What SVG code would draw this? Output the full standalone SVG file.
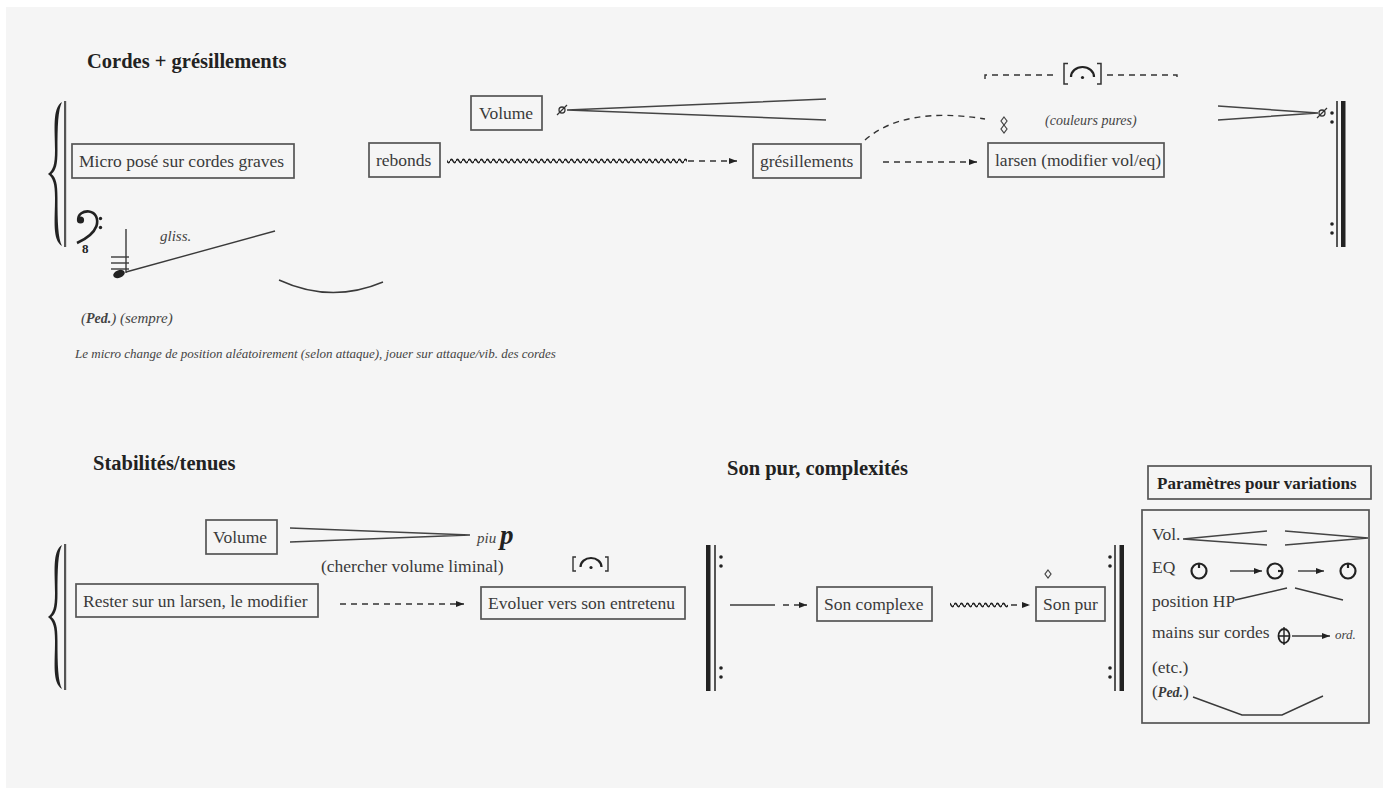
<svg xmlns="http://www.w3.org/2000/svg" width="1392" height="791" viewBox="0 0 1392 791">
<defs>
<style>
.t{font-family:"Liberation Serif","Times New Roman",serif;font-size:17.5px;fill:#3a3a3a}
.h{font-family:"Liberation Serif","Times New Roman",serif;font-size:20.5px;font-weight:bold;fill:#222}
.hb{font-family:"Liberation Serif","Times New Roman",serif;font-size:17px;font-weight:bold;fill:#222}
.it{font-family:"Liberation Serif","Times New Roman",serif;font-style:italic;fill:#444}
.box{fill:none;stroke:#555;stroke-width:1.7}
.ln{fill:none;stroke:#3a3a3a;stroke-width:1.4}
.hp{fill:none;stroke:#444;stroke-width:1.5}
.da{fill:none;stroke:#333;stroke-width:1.4;stroke-dasharray:6 5}
.thick{fill:#222}
.thin{fill:#555}
.dot{fill:#222}
.brace{fill:#222}
.knob{fill:none;stroke:#222;stroke-width:2.2}
</style>
<marker id="ah" viewBox="0 0 8 6" refX="8" refY="3" markerWidth="8" markerHeight="6" markerUnits="userSpaceOnUse" orient="auto">
<path d="M0,0 L8,3 L0,6 z" fill="#222"/>
</marker>
<pattern id="wave" x="0" y="158" width="6" height="6" patternUnits="userSpaceOnUse">
<path d="M0,3 C1,0.8 2,0.8 3,3 C4,5.2 5,5.2 6,3" fill="none" stroke="#222" stroke-width="1.6"/>
</pattern>
<path id="bracePath" d="M62,102 C52,108 55,130 55,150 C55,165 53,170 48,174 C53,178 55,183 55,198 C55,220 52,240 62,246 C58,238 57.5,222 57.5,198 C57.5,183 56,178 51.5,174 C56,170 57.5,165 57.5,150 C57.5,126 58,110 62,102 Z"/>
<g id="niente"><circle cx="0" cy="0" r="3" fill="none" stroke="#333" stroke-width="1.3"/><line x1="-5" y1="5" x2="5" y2="-5" stroke="#333" stroke-width="1.2"/></g>
<path id="diamond" d="M0,-4 L3,0 L0,4 L-3,0 Z" fill="none" stroke="#444" stroke-width="1.2"/>
</defs>

<rect x="0" y="0" width="1392" height="791" fill="#ffffff"/>
<rect x="6" y="7" width="1377" height="781" fill="#f5f5f5"/>

<!-- ===== Section 1 ===== -->
<text class="h" x="87" y="68">Cordes + grésillements</text>

<g id="staff1">
<use href="#bracePath" class="brace"/>
<rect x="64" y="101" width="2.2" height="146" class="thin"/>
<circle cx="80.5" cy="220" r="3.6" fill="#222"/>
<path d="M78.5,221 C77,213.5 84,211 89,211.5 C96,212.5 98.5,219 96.5,226 C93.5,234 86,239 77,243" fill="none" stroke="#222" stroke-width="2.6"/>
<circle cx="100.5" cy="218.5" r="1.7" fill="#222"/>
<circle cx="100.5" cy="227.5" r="1.7" fill="#222"/>
<text x="82" y="253" style="font-family:'Liberation Serif',serif;font-size:13px;font-weight:bold;fill:#222">8</text>
<line x1="126" y1="229" x2="126" y2="273" class="ln"/>
<line x1="111" y1="257" x2="129" y2="257" class="ln"/>
<line x1="111" y1="263" x2="129" y2="263" class="ln"/>
<line x1="111" y1="269" x2="129" y2="269" class="ln"/>
<ellipse cx="119" cy="274" rx="6" ry="3.8" transform="rotate(-20 119 274)" fill="#222"/>
<line x1="126" y1="272" x2="275" y2="231" class="ln"/>
<text class="it" x="160" y="241" font-size="15">gliss.</text>
<path d="M279,280 Q331,304 383,282" class="ln"/>
<text class="it" x="81" y="323" font-size="15">(<tspan font-weight="bold" font-size="14">Ped.</tspan>) (sempre)</text>
<text class="it" x="75" y="358" font-size="13">Le micro change de position aléatoirement (selon attaque), jouer sur attaque/vib. des cordes</text>
</g>

<g id="n-micro">
<rect x="72" y="144" width="222" height="34" class="box"/>
<text class="t" x="79" y="167">Micro posé sur cordes graves</text>
</g>

<g id="n-volume1">
<rect x="471" y="96" width="71" height="34" class="box"/>
<text class="t" x="479" y="119">Volume</text>
<use href="#niente" x="562" y="110"/>
<path d="M567,110 L826,99 M567,110 L826,120" class="hp"/>
</g>

<g id="n-rebonds">
<rect x="369" y="143" width="71" height="34" class="box"/>
<text class="t" x="376" y="166">rebonds</text>
</g>

<g id="n-gresillements">
<rect x="753" y="144" width="108" height="34" class="box"/>
<text class="t" x="760" y="167">grésillements</text>
</g>

<g id="n-larsen">
<rect x="988" y="143" width="176" height="34" class="box"/>
<text class="t" x="995" y="166">larsen (modifier vol/eq)</text>
</g>

<g id="annot1">
<path d="M985,79 L985,75 L1058,75" class="da"/>
<path d="M1107,75 L1177,75 L1177,79" class="da"/>
<path d="M1068,63.5 H1064 V84 H1068 M1097,63.5 H1101 V84 H1097" fill="none" stroke="#333" stroke-width="1.5"/>
<path d="M1071,77 A11.5,10 0 0 1 1094,77" fill="none" stroke="#222" stroke-width="2.2"/>
<circle cx="1082.5" cy="77.5" r="1.6" fill="#222"/>
<use href="#diamond" x="1004" y="121"/>
<use href="#diamond" x="1004" y="129"/>
<text class="it" x="1045" y="125" font-size="14">(couleurs pures)</text>
<path d="M1218,106 L1318,113 M1218,120 L1318,113" class="hp"/>
<use href="#niente" x="1322" y="113"/>
<circle cx="1332" cy="113" r="1.8" class="dot"/>
<circle cx="1332" cy="122" r="1.8" class="dot"/>
<circle cx="1332" cy="224" r="1.8" class="dot"/>
<circle cx="1332" cy="233" r="1.8" class="dot"/>
<rect x="1336" y="101" width="2" height="146" class="thin"/>
<rect x="1341" y="101" width="4.5" height="146" class="thick"/>
</g>

<!-- ===== Section 2 ===== -->
<text class="h" x="93" y="470">Stabilités/tenues</text>
<text class="h" x="727" y="475">Son pur, complexités</text>

<g id="staff2">
<use href="#bracePath" class="brace" transform="translate(0,443)"/>
<rect x="64" y="544" width="2.2" height="146" class="thin"/>
</g>

<g id="n-volume2">
<rect x="206" y="520" width="71" height="34" class="box"/>
<text class="t" x="213" y="543">Volume</text>
<path d="M290,528 L470,535 M290,542 L470,535" class="hp"/>
<text class="it" x="477" y="543" font-size="15">piu</text>
<text x="500" y="544" style="font-family:'Liberation Serif',serif;font-size:27px;font-weight:bold;font-style:italic;fill:#222">p</text>
<text class="t" x="321" y="572">(chercher volume liminal)</text>
</g>

<g id="n-rester">
<rect x="76" y="584" width="242" height="33" class="box"/>
<text class="t" x="83" y="607">Rester sur un larsen, le modifier</text>
</g>

<g id="n-evoluer">
<rect x="481" y="587" width="204" height="32" class="box"/>
<text class="t" x="488" y="609">Evoluer vers son entretenu</text>
<path d="M576,557 H573 V571 H576 M605,557 H608 V571 H605" fill="none" stroke="#333" stroke-width="1.4"/>
<path d="M580.5,567 A10.5,9 0 0 1 601.5,567" fill="none" stroke="#222" stroke-width="2.2"/>
<circle cx="591" cy="567.5" r="1.6" fill="#222"/>
</g>

<g id="repeat2">
<rect x="706" y="545" width="4.5" height="146" class="thick"/>
<rect x="714" y="545" width="2" height="146" class="thin"/>
<circle cx="721" cy="557" r="1.8" class="dot"/>
<circle cx="721" cy="566" r="1.8" class="dot"/>
<circle cx="721" cy="668" r="1.8" class="dot"/>
<circle cx="721" cy="677" r="1.8" class="dot"/>
<circle cx="1110" cy="557" r="1.8" class="dot"/>
<circle cx="1110" cy="566" r="1.8" class="dot"/>
<circle cx="1110" cy="668" r="1.8" class="dot"/>
<circle cx="1110" cy="677" r="1.8" class="dot"/>
<rect x="1114" y="545" width="2" height="146" class="thin"/>
<rect x="1119.5" y="545" width="4.5" height="146" class="thick"/>
</g>

<g id="n-soncomplexe">
<rect x="817" y="587" width="115" height="34" class="box"/>
<text class="t" x="824" y="610">Son complexe</text>
</g>

<g id="n-sonpur">
<rect x="1036" y="587" width="69" height="34" class="box"/>
<text class="t" x="1043" y="610">Son pur</text>
<use href="#diamond" x="1048" y="574"/>
</g>

<g id="n-parametres">
<rect x="1148" y="466" width="223" height="33" class="box"/>
<text class="hb" x="1157" y="489">Paramètres pour variations</text>
<rect x="1142" y="510" width="227" height="213" class="box"/>
<text class="t" x="1152" y="540">Vol.</text>
<path d="M1183,539 L1267,531 M1183,539 L1267,545 M1285,531 L1368,538 M1285,545 L1368,538" class="hp"/>
<text class="t" x="1152" y="573">EQ</text>
<circle cx="1199" cy="571" r="7.5" class="knob"/>
<line x1="1199" y1="563.5" x2="1199" y2="568" class="knob"/>
<circle cx="1275" cy="571" r="7.5" class="knob"/>
<line x1="1282.5" y1="571" x2="1278" y2="571" class="knob"/>
<circle cx="1348" cy="571" r="7.5" class="knob"/>
<line x1="1348" y1="563.5" x2="1348" y2="568" class="knob"/>
<text class="t" x="1152" y="607">position HP</text>
<path d="M1235,600 L1287,588 M1295,588 L1343,600" class="ln"/>
<text class="t" x="1152" y="638">mains sur cordes</text>
<ellipse cx="1284" cy="636" rx="5.5" ry="7" fill="none" stroke="#222" stroke-width="1.8"/>
<path d="M1278.5,636 H1289.5 M1284,627 V645" stroke="#222" stroke-width="1.4"/>
<text class="it" x="1335" y="639" font-size="13">ord.</text>
<text class="t" x="1152" y="673">(etc.)</text>
<text class="t" x="1152" y="697">(<tspan font-style="italic" font-weight="bold" font-size="14">Ped.</tspan>)</text>
<path d="M1193,697 L1242,715 L1282,715 L1323,696" class="ln"/>
</g>

<!-- ===== Connectors ===== -->
<g id="connectors">
<rect x="447" y="158" width="240" height="6" fill="url(#wave)"/>
<path d="M688,161 L737,161" class="da" marker-end="url(#ah)"/>
<path d="M883,162 L977,162" class="da" marker-end="url(#ah)"/>
<path d="M865,140 C890,118 930,110 985,119" class="da"/>
<path d="M340,604 L464,604" class="da" marker-end="url(#ah)"/>
<path d="M730,605 L775,605" class="ln"/>
<path d="M783,605 L807,605" class="da" marker-end="url(#ah)"/>
<rect x="950" y="602" width="58" height="6" fill="url(#wave)"/>
<path d="M1011,605 L1030,605" class="da" marker-end="url(#ah)"/>
<path d="M1230,571 L1262,571" class="ln" marker-end="url(#ah)"/>
<path d="M1298,571 L1324,571" class="ln" marker-end="url(#ah)"/>
<path d="M1292,636 L1330,636" class="ln" marker-end="url(#ah)"/>
</g>
</svg>
